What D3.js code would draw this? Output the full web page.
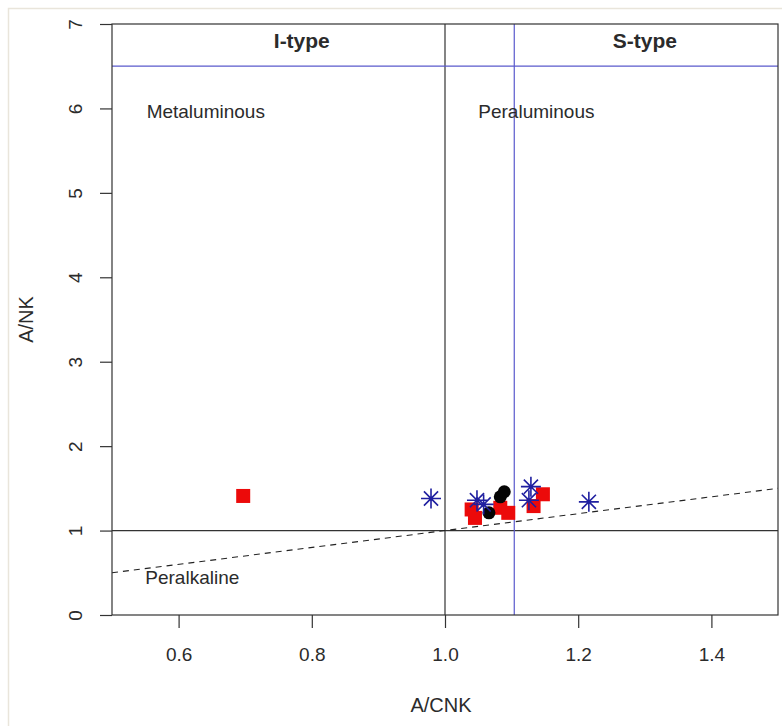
<!DOCTYPE html>
<html>
<head>
<meta charset="utf-8">
<script src="https://cdn.jsdelivr.net/npm/d3@7"></script>
<style>
  body { margin: 0; background: #ffffff; }
  text { font-family: "Liberation Sans", Arial, sans-serif; fill: #2b2b2b; }
</style>
</head>
<body>
<svg id="chart" width="782" height="726"></svg>
<script>
// Axis ranges and ticks
const xDomain = [0.5, 1.5];
const yDomain = [0, 7];
const xTicks = [0.6, 0.8, 1.0, 1.2, 1.4];
const yTicks = [0, 1, 2, 3, 4, 5, 6, 7];

// Field boundaries
const aluminaLimit = 1.0;      // A/CNK = 1 and A/NK = 1
const sTypeLimit = 1.104;      // I-type / S-type divide
const typeBandLimit = 6.5;     // lower edge of the I/S-type header band
const peralkLineX = [0.5, 1.5];
const peralkLineY = [0.5, 1.5];

// Samples: red squares
const squareX = [0.697, 1.040, 1.045, 1.083, 1.095, 1.133, 1.147];
const squareY = [1.41, 1.25, 1.15, 1.27, 1.21, 1.29, 1.43];
// Samples: black circles
const circleX = [1.066, 1.083, 1.089];
const circleY = [1.21, 1.40, 1.46];
// Samples: blue asterisks
const starX = [0.979, 1.048, 1.058, 1.126, 1.129, 1.216];
const starY = [1.38, 1.36, 1.31, 1.36, 1.52, 1.34];

const svg = d3.select("#chart");
const m = { left: 112, right: 778, top: 24, bottom: 615 };

const x = d3.scaleLinear().domain(xDomain).range([m.left, m.right]);
const y = d3.scaleLinear().domain(yDomain).range([m.bottom, m.top]);

// light outer frame
svg.append("rect").attr("x", 8.5).attr("y", 8.5).attr("width", 800).attr("height", 800)
  .attr("fill", "none").attr("stroke", "#e9e5db").attr("stroke-width", 1.5);

const plot = svg.append("g");

// field boundary lines
plot.append("line").attr("x1", x(aluminaLimit)).attr("x2", x(aluminaLimit))
  .attr("y1", y(yDomain[0])).attr("y2", y(yDomain[1])).attr("stroke", "#333").attr("stroke-width", 1.2);
plot.append("line").attr("x1", x(xDomain[0])).attr("x2", x(xDomain[1]))
  .attr("y1", y(aluminaLimit)).attr("y2", y(aluminaLimit)).attr("stroke", "#333").attr("stroke-width", 1.2);
plot.append("line").attr("x1", x(sTypeLimit)).attr("x2", x(sTypeLimit))
  .attr("y1", y(yDomain[0])).attr("y2", y(yDomain[1])).attr("stroke", "#5a5acc").attr("stroke-width", 1.2);
plot.append("line").attr("x1", x(xDomain[0])).attr("x2", x(xDomain[1]))
  .attr("y1", y(typeBandLimit)).attr("y2", y(typeBandLimit)).attr("stroke", "#5a5acc").attr("stroke-width", 1.2);

// peralkaline boundary (dashed)
plot.append("path")
  .attr("d", d3.line().x(d => x(d[0])).y(d => y(d[1]))(d3.zip(peralkLineX, peralkLineY)))
  .attr("fill", "none").attr("stroke", "#222").attr("stroke-width", 1.1).attr("stroke-dasharray", "6,5");

// axes
const xAxis = d3.axisBottom(x).tickValues(xTicks).tickFormat(d3.format(".1f")).tickSize(13).tickPadding(20);
const gx = svg.append("g").attr("transform", `translate(0,${m.bottom})`).call(xAxis);
gx.select(".domain").remove();
gx.selectAll("line").attr("stroke", "#333").attr("stroke-width", 1.2);
gx.selectAll("text").attr("font-size", 19).attr("fill", "#2b2b2b")
  .attr("font-family", "Liberation Sans, Arial, sans-serif");

const yAxis = d3.axisLeft(y).tickValues(yTicks).tickFormat(d3.format("d")).tickSize(12);
const gy = svg.append("g").attr("transform", `translate(${m.left},0)`).call(yAxis);
gy.select(".domain").remove();
gy.selectAll("line").attr("stroke", "#333").attr("stroke-width", 1.2);
gy.selectAll("text").attr("font-size", 19).attr("fill", "#2b2b2b")
  .attr("font-family", "Liberation Sans, Arial, sans-serif")
  .attr("text-anchor", "middle").attr("x", 0).attr("dy", 0)
  .attr("transform", "translate(-30,0) rotate(-90)");

// plot box
svg.append("rect").attr("x", m.left).attr("y", m.top)
  .attr("width", m.right - m.left).attr("height", m.bottom - m.top)
  .attr("fill", "none").attr("stroke", "#333").attr("stroke-width", 1.2);

// axis titles
svg.append("text").attr("x", (m.left + m.right) / 2 - 4).attr("y", 712)
  .attr("text-anchor", "middle").attr("font-size", 20).text("A/CNK");
svg.append("text").attr("transform", `translate(33,${(m.top + m.bottom) / 2}) rotate(-90)`)
  .attr("text-anchor", "middle").attr("font-size", 20).text("A/NK");

// field labels
svg.append("text").attr("x", x(0.785)).attr("y", 48).attr("text-anchor", "middle")
  .attr("font-family", "Open Sans, sans-serif").attr("font-weight", 700).attr("font-size", 21)
  .attr("fill", "#111").text("I-type");
svg.append("text").attr("x", x(1.30)).attr("y", 48).attr("text-anchor", "middle")
  .attr("font-family", "Open Sans, sans-serif").attr("font-weight", 700).attr("font-size", 21)
  .attr("fill", "#111").text("S-type");
svg.append("text").attr("x", x(0.552)).attr("y", y(5.89)).attr("font-size", 19).text("Metaluminous");
svg.append("text").attr("x", x(1.05)).attr("y", y(5.89)).attr("font-size", 19).text("Peraluminous");
svg.append("text").attr("x", x(0.55)).attr("y", y(0.37)).attr("font-size", 19).text("Peralkaline");

// samples
const sq = 14;
plot.append("g").selectAll("rect").data(d3.zip(squareX, squareY)).join("rect")
  .attr("x", d => x(d[0]) - sq / 2).attr("y", d => y(d[1]) - sq / 2)
  .attr("width", sq).attr("height", sq).attr("fill", "#ec0a0a");

plot.append("g").selectAll("circle").data(d3.zip(circleX, circleY)).join("circle")
  .attr("cx", d => x(d[0])).attr("cy", d => y(d[1])).attr("r", 6.5).attr("fill", "#050505");

const r = 10, rd = r * Math.SQRT1_2;
const starPath = `M${-r},0H${r}M0,${-r}V${r}M${-rd},${-rd}L${rd},${rd}M${-rd},${rd}L${rd},${-rd}`;
plot.append("g").selectAll("path").data(d3.zip(starX, starY)).join("path")
  .attr("transform", d => `translate(${x(d[0])},${y(d[1])})`)
  .attr("d", starPath).attr("fill", "none").attr("stroke", "#1f1fa0").attr("stroke-width", 1.6);
</script>
</body>
</html>
